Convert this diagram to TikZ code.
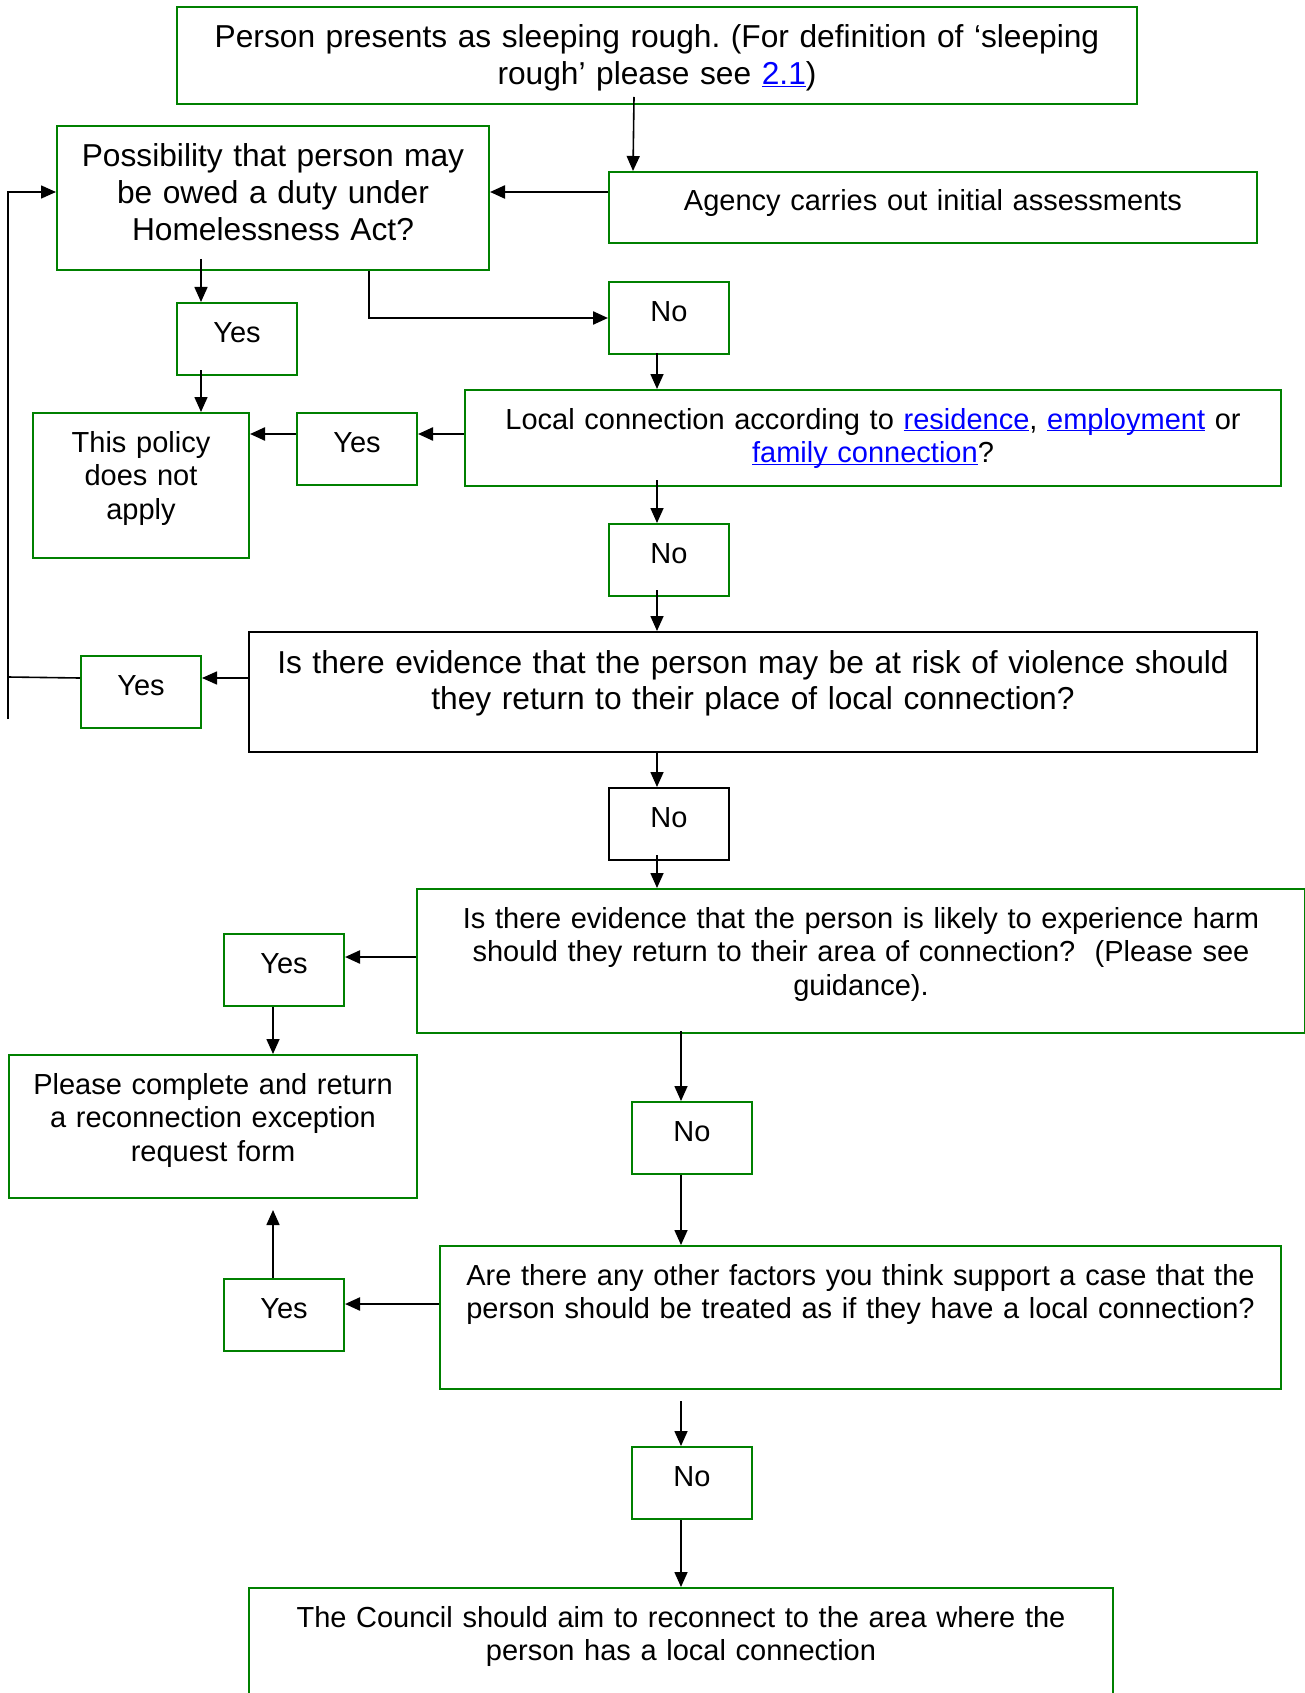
\documentclass[tikz,border=0pt]{standalone}
\usepackage{fontspec}
\setmainfont{Liberation Sans}
\usetikzlibrary{arrows.meta,calc}
\definecolor{boxgreen}{RGB}{0,128,0}
\definecolor{linkblue}{RGB}{0,0,255}
\frenchspacing

\begin{document}
\begin{tikzpicture}[x=1pt, y=-1pt,
	box/.style={draw=boxgreen, line width=2pt, anchor=north west, inner xsep=8pt, inner ysep=0pt, align=center, font=\fontsize{29}{33.6}\selectfont, text height=39pt},
	bigtext/.style={font=\fontsize{31.7}{36.8}\selectfont, text height=41pt},
	answer/.style={box, text width=104pt, text depth=33pt},
	flowline/.style={line width=1.6pt},
	flowarrow/.style={flowline, -{Triangle[length=15pt,width=13pt]}},
	boldarrow/.style={flowarrow, line width=2.3pt}]
	\useasboundingbox (0,0) rectangle (1305,1693);
	\clip (0,0) rectangle (1305,1693);

	\node[box, bigtext, text width=944pt, text depth=56pt] (start) at (176,6) {Person presents as sleeping rough. (For definition of ‘sleeping\\ rough’ please see \textcolor{linkblue}{\underline{\smash{2.1}}})};
	\node[box, bigtext, text width=416pt, text depth=103pt] (duty) at (56,125) {Possibility that person may\\ be owed a duty under\\ Homelessness Act?};
	\node[box, text width=632pt, text depth=32pt] (assess) at (608,171) {Agency carries out initial assessments};
	\node[answer] (no1) at (608,281) {No};
	\node[answer] (yes1) at (176,302) {Yes};
	\node[box, text width=800pt, text depth=57pt] (local) at (464,389) {Local connection according to \textcolor{linkblue}{\underline{\smash{residence}}}, \textcolor{linkblue}{\underline{\smash{employment}}} or\\ \textcolor{linkblue}{\underline{\smash{family connection}}}?};
	\node[answer] (yes2) at (296,412) {Yes};
	\node[box, text width=200pt, text depth=106pt] (notapply) at (32,412) {This policy\\ does not\\ apply};
	\node[answer] (no2) at (608,523) {No};
	\node[box, bigtext, draw=black, text width=992pt, text depth=79pt] (violence) at (248,631) {Is there evidence that the person may be at risk of violence should\\ they return to their place of local connection?};
	\node[answer] (yes3) at (80,655) {Yes};
	\node[answer, draw=black] (no3) at (608,787) {No};
	\node[box, text width=872pt, text depth=105pt] (harm) at (416,888) {Is there evidence that the person is likely to experience harm\\ should they return to their area of connection?~ (Please see\\ guidance).};
	\node[answer] (yes4) at (223,933) {Yes};
	\node[box, text width=392pt, text depth=104pt] (exception) at (8,1054) {Please complete and return\\ a reconnection exception\\ request form};
	\node[answer] (no4) at (631,1101) {No};
	\node[box, text width=825pt, text depth=104pt] (factors) at (439,1245) {Are there any other factors you think support a case that the\\ person should be treated as if they have a local connection?};
	\node[answer] (yes5) at (223,1278) {Yes};
	\node[answer] (no5) at (631,1446) {No};
	\node[box, text width=848pt, text depth=101pt] (council) at (248,1587) {The Council should aim to reconnect to the area where the\\ person has a local connection};

	\coordinate (loopbottom) at (8,719);

	\draw[flowarrow] ($(start.south)+(-23,-8)$) -- ($(assess.north west)+(25,0)$);
	\draw[boldarrow] ($(assess.west)+(0,-15.5)$) -- ($(duty.east)+(0,-6)$);
	\draw[flowarrow] ($(duty.south)+(-72,-12)$) -- ($(yes1.north)+(-36,0)$);
	\draw[boldarrow] ($(duty.south)+(96,0)$) |- (no1.west);
	\draw[flowarrow] ($(yes1.south)+(-36,-6)$) -- ($(notapply.north)+(60,0)$);
	\draw[flowarrow] ($(no1.south)+(-12,-2)$) -- ($(local.north)+(-216,0)$);
	\draw[boldarrow] ($(local.west)+(0,-4)$) -- ($(yes2.east)+(0,-15)$);
	\draw[boldarrow] ($(yes2.west)+(0,-15)$) -- ($(notapply.east)+(0,-51.5)$);
	\draw[flowarrow] ($(local.south)+(-216,-7)$) -- ($(no2.north)+(-12,0)$);
	\draw[flowarrow] ($(no2.south)+(-12,-7)$) -- ($(violence.north)+(-96,0)$);
	\draw[flowarrow] ($(violence.west)+(0,-14)$) -- ($(yes3.east)+(0,-14)$);
	\draw[flowline] ($(yes3.west)+(0,-14)$) -- ($(loopbottom)+(0,-42)$);
	\draw[flowarrow] (loopbottom) |- ($(duty.west)+(0,-6)$);
	\draw[flowarrow] ($(violence.south)+(-96,0)$) -- ($(no3.north)+(-12,0)$);
	\draw[flowarrow] ($(no3.south)+(-12,-6)$) -- ($(harm.north)+(-204,0)$);
	\draw[boldarrow] ($(harm.west)+(0,-4)$) -- ($(yes4.east)+(0,-13)$);
	\draw[flowarrow] ($(yes4.south)+(-11,0)$) -- ($(exception.north)+(60,0)$);
	\draw[flowarrow] ($(harm.south)+(-180,-3)$) -- ($(no4.north)+(-11,0)$);
	\draw[flowarrow] ($(no4.south)+(-11,0)$) -- ($(factors.north)+(-179.5,0)$);
	\draw[boldarrow] ($(factors.west)+(0,-13.5)$) -- ($(yes5.east)+(0,-11)$);
	\draw[flowarrow] ($(yes5.north)+(-11,0)$) -- ($(exception.south)+(60,11)$);
	\draw[flowarrow] ($(factors.south)+(-179.5,11)$) -- ($(no5.north)+(-11,0)$);
	\draw[flowarrow] ($(no5.south)+(-11,0)$) -- (council.north);
\end{tikzpicture}
\end{document}
